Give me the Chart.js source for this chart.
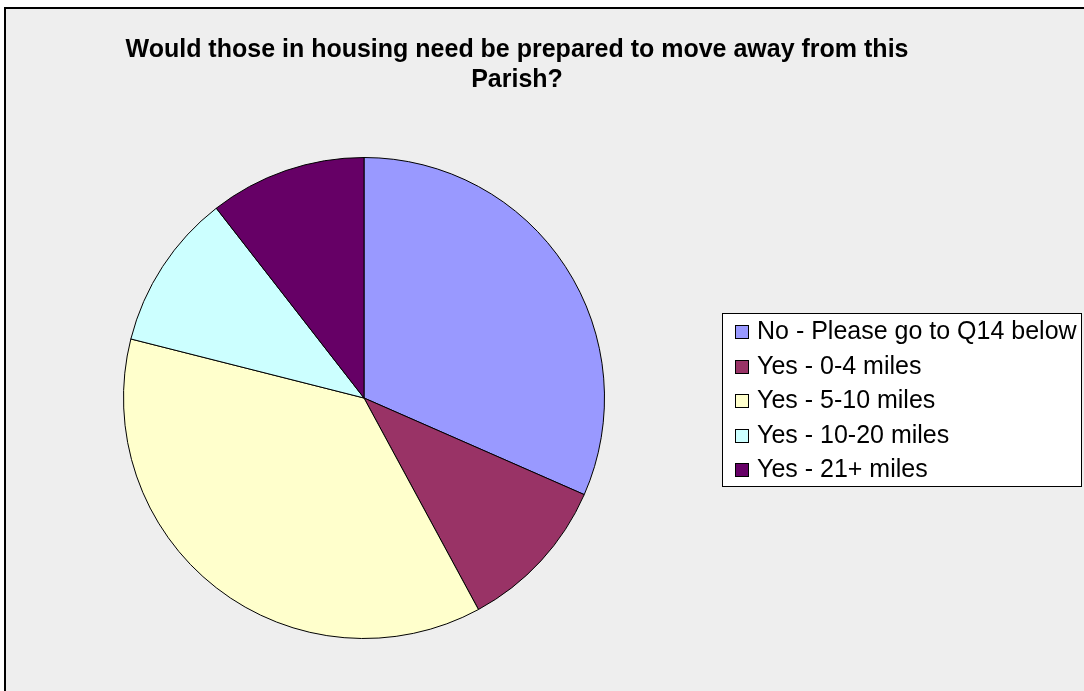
<!DOCTYPE html>
<html>
<head>
<meta charset="utf-8">
<script src="https://cdn.jsdelivr.net/npm/chart.js@4"></script>
<style>
  html, body { margin:0; padding:0; background:#fff; }
  #wrap { position:relative; width:1084px; height:691px; }
  canvas { display:block; }
</style>
</head>
<body>
<div id="wrap"><canvas id="pie" width="1084" height="691"></canvas></div>
<script>
// answers to the housing question
const categories = [
  'No - Please go to Q14 below',
  'Yes - 0-4 miles',
  'Yes - 5-10 miles',
  'Yes - 10-20 miles',
  'Yes - 21+ miles'
];
const counts = [6, 2, 7, 2, 2];
const colours = ['#9999FF', '#993366', '#FFFFCC', '#CCFFFF', '#660066'];
const titleLines = ['Would those in housing need be prepared to move away from this', 'Parish?'];

/* grey plot panel with its black frame */
const panel = {
  id: 'panel',
  beforeDraw(chart){
    const ctx = chart.ctx;
    ctx.save();
    ctx.fillStyle = '#EEEEEE';
    ctx.fillRect(5, 8, chart.width, chart.height);
    ctx.strokeStyle = '#000';
    ctx.lineWidth = 2;
    ctx.beginPath();
    ctx.moveTo(5, chart.height);
    ctx.lineTo(5, 8);
    ctx.lineTo(chart.width, 8);
    ctx.stroke();
    ctx.restore();
  }
};

/* title + boxed legend, Excel style */
const decor = {
  id: 'decor',
  afterDraw(chart){
    const ctx = chart.ctx;
    ctx.save();
    ctx.fillStyle = '#000';
    ctx.textAlign = 'center';
    ctx.textBaseline = 'alphabetic';
    ctx.font = 'bold 25px "Liberation Sans", Arial, sans-serif';
    titleLines.forEach((t, i) => ctx.fillText(t, 517, 57 + i*30));

    // legend box
    const bx = 722.5, by = 313.5, bw = 359, bh = 173;
    ctx.fillStyle = '#fff';
    ctx.fillRect(bx, by, bw, bh);
    ctx.strokeStyle = '#000';
    ctx.lineWidth = 1;
    ctx.strokeRect(bx, by, bw, bh);

    ctx.font = '25px "Liberation Sans", Arial, sans-serif';
    ctx.textAlign = 'left';
    const ds = chart.data.datasets[0];
    chart.data.labels.forEach((lab, i) => {
      const base = 339 + i*34.6;
      ctx.fillStyle = ds.backgroundColor[i];
      ctx.fillRect(735.5, Math.round(base) - 13.5, 13, 13);
      ctx.strokeRect(735.5, Math.round(base) - 13.5, 13, 13);
      ctx.fillStyle = '#000';
      ctx.fillText(lab, 757, base);
    });
    ctx.restore();
  }
};

new Chart(document.getElementById('pie'), {
  type: 'pie',
  data: {
    labels: categories,
    datasets: [{
      data: counts,
      backgroundColor: colours,
      borderColor: '#000',
      borderWidth: 1
    }]
  },
  options: {
    responsive: false,
    animation: false,
    layout: { padding: { left: 123, right: 479, top: 157, bottom: 52 } },
    plugins: {
      legend: { display: false },
      title: { display: false },
      tooltip: { enabled: false }
    }
  },
  plugins: [panel, decor]
});
</script>
</body>
</html>
